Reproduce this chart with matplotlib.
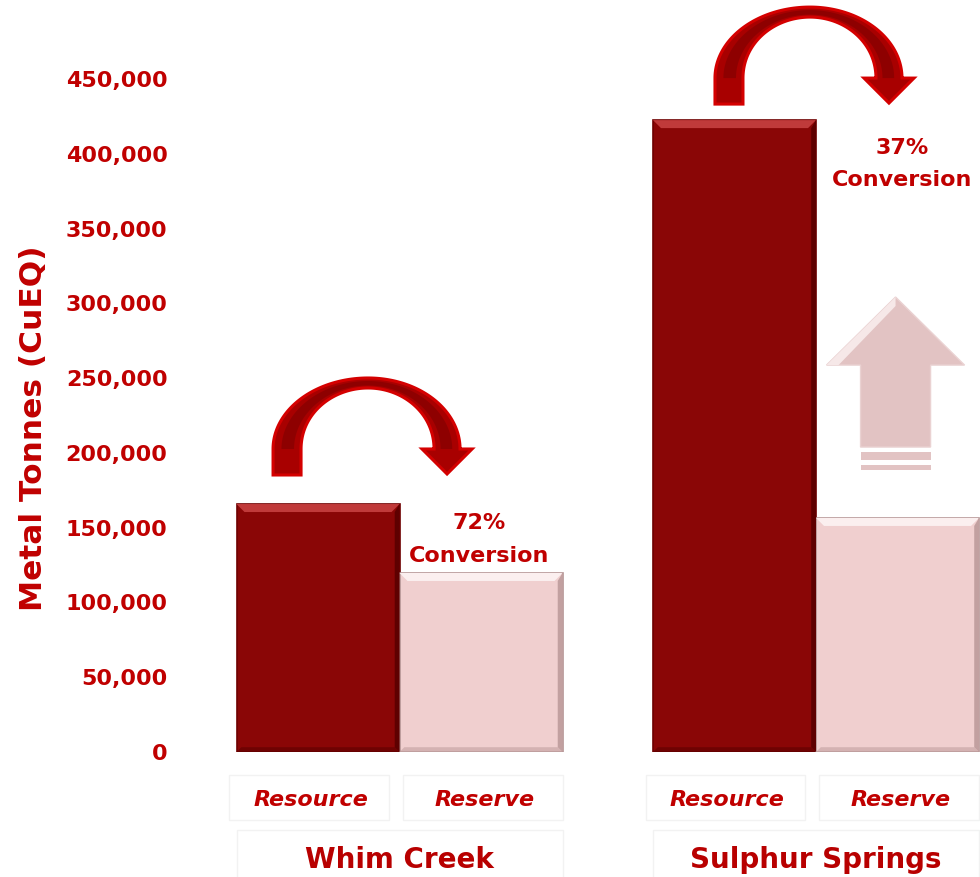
import numpy as np
import matplotlib
matplotlib.use("Agg")
import matplotlib.pyplot as plt
from matplotlib.patches import Polygon, Rectangle
import matplotlib.transforms as mtransforms

# ---------------- data ----------------
groups = ["Whim Creek", "Sulphur Springs"]
categories = ["Resource", "Reserve"]
resource = [165800, 422500]
reserve = [119700, 156500]
conversion = ["72%", "37%"]
yticks = [0, 50000, 100000, 150000, 200000, 250000, 300000, 350000, 400000, 450000]
ylabel = "Metal Tonnes (CuEQ)"

# ---------------- layout ----------------
W, H, DPI = 980, 877, 100
RED = "#c00000"
RES_COL = "#8a0606"
RSV_COL = "#f0cfcf"
group_x = [0.0, 2.555]          # x of resource bar in each group
bar_w = 1.0
xlim = (-0.8466, 4.061)
ylim = (0, 500000)

fig = plt.figure(figsize=(W / DPI, H / DPI), dpi=DPI)
ax_left, ax_bottom = 180 / W, (H - 752) / H
ax_w, ax_h = 800 / W, 747.8 / H
ax = fig.add_axes([ax_left, ax_bottom, ax_w, ax_h])
ax.set_xlim(*xlim)
ax.set_ylim(*ylim)
for s in ax.spines.values():
    s.set_visible(False)
ax.set_xticks([])
ax.set_yticks(yticks)
ax.set_yticklabels([f"{v:,}" for v in yticks], color=RED, fontsize=16,
                   fontweight="bold", family="DejaVu Sans")
ax.tick_params(axis="y", length=0, pad=9)
fig.text(33 / W, 1 - 428 / H, ylabel, rotation=90, color=RED, fontsize=22.5,
         fontweight="bold", ha="center", va="center", family="DejaVu Sans")

# pixel <-> data scale
px_per_x = ax_w * W / (xlim[1] - xlim[0])
val_per_px = (ylim[1] - ylim[0]) / (ax_h * H)


def bevel_bar(x, h, face, light, dark, edge):
    ax.bar(x, h, width=bar_w, color=face, edgecolor=edge, linewidth=1.2, zorder=2)
    b = 8  # bevel size px
    bx = b / px_per_x
    by = b * val_per_px
    l, r = x - bar_w / 2, x + bar_w / 2
    top = Polygon([(l, h), (r, h), (r - bx, h - by), (l + bx, h - by)],
                  closed=True, facecolor=light, edgecolor="none", zorder=3)
    right = Polygon([(r, h), (r, 0), (r - bx * 0.6, by * 0.6), (r - bx * 0.6, h - by)],
                    closed=True, facecolor=dark, edgecolor="none", zorder=3)
    bottom = Polygon([(l, 0), (r, 0), (r - bx * 0.6, by * 0.6), (l + bx * 0.6, by * 0.6)],
                     closed=True, facecolor=dark, edgecolor="none", zorder=3, alpha=0.6)
    for p in (top, right, bottom):
        ax.add_patch(p)


def curved_arrow(cx, cy, rxl=95, rxr=92, ry=71, leg=26, head_w=50, head_l=25):
    th = np.linspace(np.pi, 0, 120)
    rx = np.where(th > np.pi / 2, rxl, rxr)
    t = 10 + 18 * np.cos(th) ** 2
    right = th < np.pi / 2
    t[right] = 10 + 16 * np.cos(th[right]) ** 2
    outer = np.column_stack([rx * np.cos(th), ry * np.sin(th)])
    inner = np.column_stack([(rx - t) * np.cos(th), (ry - t) * np.sin(th)])
    mid = rxr - t[-1] / 2
    pts = [(-rxl, -leg)]
    pts += outer.tolist()
    pts += [(mid + head_w / 2, 0), (mid, -head_l), (mid - head_w / 2, 0)]
    pts += inner[::-1].tolist()
    pts += [(-(rxl - t[0]), -leg)]
    pts = np.array(pts)
    data = np.column_stack([cx + pts[:, 0] / px_per_x, cy + pts[:, 1] * val_per_px])
    ax.add_patch(Polygon(data, closed=True, facecolor="#a80000", edgecolor="#d40000",
                         linewidth=2.2, zorder=4, clip_on=False))
    # inner darker shading
    t2 = t * 0.45
    outer2 = np.column_stack([(rx - t * 0.3) * np.cos(th), (ry - t * 0.3) * np.sin(th)])
    inner2 = np.column_stack([(rx - t * 0.3 - t2) * np.cos(th), (ry - t * 0.3 - t2) * np.sin(th)])
    p2 = np.vstack([outer2, inner2[::-1]])
    data2 = np.column_stack([cx + p2[:, 0] / px_per_x, cy + p2[:, 1] * val_per_px])
    ax.add_patch(Polygon(data2, closed=True, facecolor="#7a0000", edgecolor="none",
                         alpha=0.55, zorder=5, clip_on=False))


for gi, gx in enumerate(group_x):
    bevel_bar(gx, resource[gi], RES_COL, "#c03a3a", "#5e0000", "#6e0000")
    bevel_bar(gx + bar_w, reserve[gi], RSV_COL, "#fbefef", "#c2a0a0", "#b59595")

# conversion texts
conv_pos = [(-0.01, 153100, 131000), (0.03, 403800, 382400)]
for gi, gx in enumerate(group_x):
    dx, y1, y2 = conv_pos[gi]
    ax.text(gx + bar_w + dx, y1, conversion[gi], color=RED, fontsize=16,
            fontweight="bold", ha="center", va="center")
    ax.text(gx + bar_w + dx, y2, "Conversion", color=RED, fontsize=16,
            fontweight="bold", ha="center", va="center")

# curved arrows
curved_arrow(0.307, 202600)
curved_arrow(3.018, 450600)

# up arrow in Sulphur Springs reserve
ux = group_x[1] + bar_w - 0.012
hw, sw = 69 / px_per_x, 35 / px_per_x
up_tip, up_base, up_bot = 304200, 258700, 203900
ax.add_patch(Polygon([(ux, up_tip), (ux + hw, up_base), (ux + sw, up_base),
                      (ux + sw, up_bot), (ux - sw, up_bot), (ux - sw, up_base),
                      (ux - hw, up_base)], closed=True, facecolor="#e2c3c3",
                     edgecolor="#ead2d2", linewidth=1, zorder=2))
ax.add_patch(Polygon([(ux, up_tip), (ux - hw, up_base), (ux - hw + 12 / px_per_x, up_base),
                      (ux, up_tip - 9 * val_per_px)], closed=True,
                     facecolor="#f6e8e8", edgecolor="none", zorder=2))
for y0, y1 in [(195200, 200600), (188500, 191900)]:
    ax.add_patch(Rectangle((ux - sw, y0), 2 * sw, y1 - y0, facecolor="#e2c3c3",
                           edgecolor="none", zorder=2))

# category labels and faint boxes
blend = mtransforms.blended_transform_factory(ax.transData, ax.transAxes)
cat_dx = [-0.045, 0.02]
cat_y = -0.0642
box_y0, box_y1 = -0.0909, -0.0308
grp_y = -0.1444
grp_box0, grp_box1 = -0.175, -0.1043
for gi, gx in enumerate(group_x):
    for ci, cat in enumerate(categories):
        x = gx + ci * bar_w + cat_dx[ci]
        ax.add_patch(Rectangle((x - 0.5, box_y0), bar_w - 0.02, box_y1 - box_y0,
                               transform=blend, facecolor="none", edgecolor="#f2f2f2",
                               linewidth=1, clip_on=False))
        ax.text(x, cat_y, cat, transform=blend, color=RED, fontsize=16,
                fontweight="bold", fontstyle="italic", ha="center", va="center")
    gc = gx + bar_w / 2
    ax.add_patch(Rectangle((gc - 1.0, grp_box0), 2.0, grp_box1 - grp_box0,
                           transform=blend, facecolor="none", edgecolor="#f2f2f2",
                           linewidth=1, clip_on=False))
    ax.text(gc, grp_y, groups[gi], transform=blend, color="#b80000", fontsize=20,
            fontweight="bold", ha="center", va="center")

fig.savefig("out.png", dpi=DPI, facecolor="white")
